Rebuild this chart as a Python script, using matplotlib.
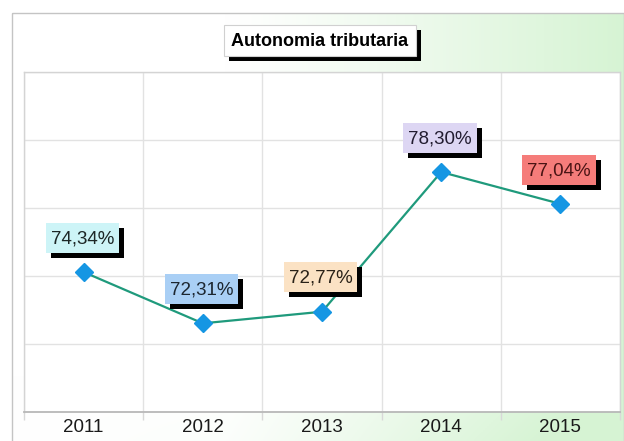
"""Autonomia tributaria line chart."""

import matplotlib

matplotlib.use("Agg")
import matplotlib.pyplot as plt
import numpy as np
from matplotlib.patches import Rectangle
from matplotlib.transforms import IdentityTransform

plt.rcParams["font.family"] = ["Liberation Sans", "DejaVu Sans"]

years = ["2011", "2012", "2013", "2014", "2015"]
values = [74.34, 72.31, 72.77, 78.30, 77.04]
labels = ["74,34%", "72,31%", "72,77%", "78,30%", "77,04%"]
box_colors = ["#cdf4f7", "#a9cff5", "#fbe2c4", "#ddd6f3", "#f57c7a"]
text_colors = ["#1c2626", "#1c2630", "#2a2218", "#221c30", "#4a1414"]
title = "Autonomia tributaria"

W, H = 624, 441
fig = plt.figure(figsize=(W / 100, H / 100), dpi=100)

# background: white with a soft green wash towards the right
bg = fig.add_axes([0, 0, 1, 1])
bg.set_xlim(0, W)
bg.set_ylim(H, 0)
bg.axis("off")
gx = np.linspace(0, 1, 300)
gy = np.linspace(0, 1, 200)
XX, YY = np.meshgrid(gx, gy)
t = np.clip((XX - 0.35) / 0.65, 0, 1) ** 1.1
t = np.clip(t + 0.25 * np.clip((YY - 0.85) / 0.15, 0, 1) * XX, 0, 1)
white = np.array([1.0, 1.0, 1.0])
green = np.array([0.84, 0.955, 0.83])
img = white[None, None, :] * (1 - t[..., None]) + green[None, None, :] * t[..., None]
bg.imshow(img, extent=(12, W, H, 13), aspect="auto", zorder=0)
bg.add_patch(Rectangle((12, 13), W - 12.5, H, fill=False, edgecolor="#c4c4c4", linewidth=1.0, zorder=1))

title_txt = bg.text(320, 41, title, fontsize=13, fontweight="bold", color="black",
                    ha="center", va="center", zorder=4)

# plot area
ax = fig.add_axes([24 / W, (H - 412) / H, (620 - 24) / W, (412 - 72) / H])
ax.set_facecolor("white")
x = np.arange(len(years))
ax.plot(x, values, color="#1f9a7c", linewidth=1.6, zorder=3)
ax.plot(x, values, linestyle="none", marker="D", markersize=9.5, color="#1596e3", zorder=4)

ax.set_xlim(-0.5, len(years) - 0.5)
lo, hi = 68.80, 82.26
ax.set_ylim(lo, hi)
ax.set_yticks(np.linspace(lo, hi, 6))
ax.set_yticklabels([])
ax.tick_params(axis="y", length=0)
ax.set_xticks(x)
ax.set_xticklabels(years, fontsize=13.5, color="#1a1a1a")
ax.set_xticks(np.arange(-0.5, len(years)), minor=True)
ax.tick_params(axis="x", which="major", length=0, pad=5)
ax.tick_params(axis="x", which="minor", length=6, color="#d8d8d8", width=1)
ax.grid(True, axis="y", color="#e2e2e2", linewidth=1)
ax.grid(True, axis="x", which="minor", color="#e2e2e2", linewidth=1)
ax.set_axisbelow(True)
for side in ["left", "top", "right"]:
    ax.spines[side].set_color("#d4d4d4")
    ax.spines[side].set_linewidth(1)
ax.spines["bottom"].set_color("#b8b8b8")
ax.spines["bottom"].set_linewidth(1.3)

# value labels
label_txts = []
for xi, v, lab, tc in zip(x, values, labels, text_colors):
    label_txts.append(ax.annotate(lab, (xi, v), xytext=(-1, 24), textcoords="offset points",
                                  ha="center", va="center", fontsize=13.5, color=tc, zorder=7))

# boxes with black drop shadows, sized from the rendered text
fig.canvas.draw()
renderer = fig.canvas.get_renderer()


def _boxed(host, txt, fc, pad_x, box_h, z, edge="none"):
    bb = txt.get_window_extent(renderer)
    cx, cy = (bb.x0 + bb.x1) / 2, (bb.y0 + bb.y1) / 2 + 1
    w = bb.width + 2 * pad_x
    x0, y0 = cx - w / 2, cy - box_h / 2
    host.add_patch(Rectangle((x0 + 5, y0 - 5), w, box_h, transform=IdentityTransform(),
                             facecolor="black", edgecolor="none", clip_on=False, zorder=z))
    host.add_patch(Rectangle((x0, y0), w, box_h, transform=IdentityTransform(),
                             facecolor=fc, edgecolor=edge, linewidth=0.8, clip_on=False, zorder=z + 0.5))


_boxed(bg, title_txt, "white", 7, 31, 2, edge="#d0d0d0")
for lt, fc in zip(label_txts, box_colors):
    _boxed(ax, lt, fc, 5, 30, 5)

fig.savefig("out.png", dpi=100)
